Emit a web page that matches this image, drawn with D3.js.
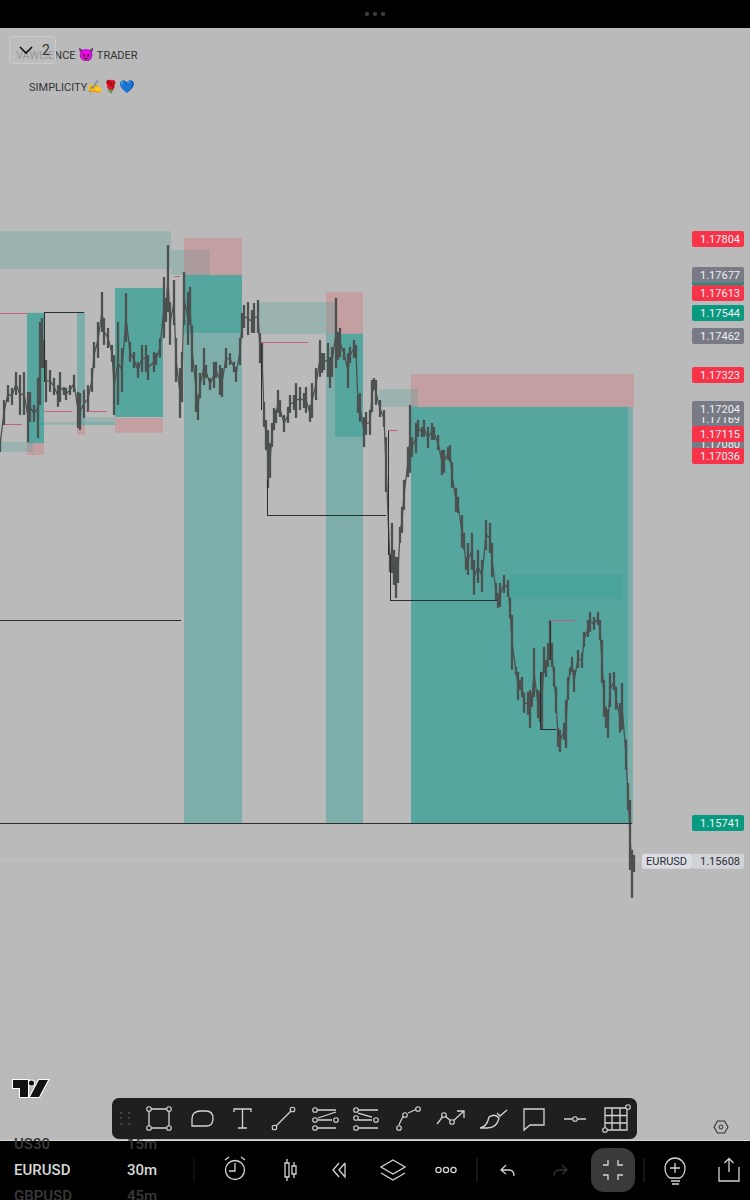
<!DOCTYPE html>
<html lang="en">

<head>
    <meta charset="utf-8">
    <title>EURUSD 30m</title>
    <script src="https://cdn.jsdelivr.net/npm/d3@7"></script>
    <style>
        * {
            margin: 0;
            padding: 0;
        }

        body {
            background: #000;
            overflow: hidden;
        }

        svg {
            display: block;
            font-family: Roboto, sans-serif;
        }
    </style>
</head>

<body>
    <div id="chart"></div>
    <script>
        // bars, one per sampled 30m candle
        var barNo = [0, 2, 4, 6, 8, 10, 12, 14, 15, 17, 19, 20, 21, 22, 23, 25, 27, 29, 30, 32, 33, 35, 37, 39, 40, 42, 44, 46, 47, 49, 51, 52, 54, 56, 57, 59, 61, 63, 65, 67, 69, 71, 73, 74, 77, 78, 80, 82, 83, 84, 85, 87, 88, 90, 91, 92, 94, 95, 96, 98, 99, 100, 102, 103, 105, 107, 108, 110, 111, 113, 115, 117, 118, 120, 121, 122, 124,
            126, 127, 129, 130, 131, 132, 133, 134, 135, 136, 137, 138, 139, 140, 142, 144, 145, 147, 148, 150, 152, 153, 155, 156, 158, 160, 161, 162, 164, 165, 166, 168, 169, 170, 172, 174, 175, 177, 178, 179, 180, 182, 183, 185, 186, 187, 188, 190, 192, 193, 195, 196, 197, 198, 199, 200, 201, 202, 204, 205, 206, 208, 209, 211, 212, 214, 216, 217, 219, 221, 222, 224, 225, 226, 228, 229, 231, 232, 233, 234, 236, 237, 239, 241, 243, 245, 246, 248, 249,
            250, 252, 254, 255, 256, 258, 259, 260, 261, 262, 264, 265, 266, 267, 269, 270, 271, 272, 273, 274, 275, 276, 277, 278, 279, 280, 282, 283, 284, 285, 286, 287, 289, 291, 292, 294, 295, 297, 299, 300, 301, 302, 303, 304, 305, 307, 308, 310, 311, 313, 314, 315, 316, 317];
        var barHigh = [1.17101, 1.17235, 1.17288, 1.17278, 1.17334, 1.17324, 1.17334, 1.17264, 1.17264, 1.17218, 1.17313, 1.17511, 1.17525, 1.17447, 1.17377, 1.17341, 1.17313, 1.17288, 1.17334, 1.17281, 1.17278, 1.17288, 1.17324, 1.17264, 1.17260, 1.17271, 1.17288, 1.17348, 1.17440, 1.17511, 1.17617, 1.17525, 1.17490, 1.17430, 1.17394, 1.17511, 1.17419, 1.17613, 1.17440, 1.17405, 1.17370, 1.17430, 1.17430, 1.17394, 1.17405, 1.17401, 1.17454, 1.17670, 1.17596, 1.17783, 1.17581, 1.17659, 1.17454, 1.17348, 1.17405, 1.17687, 1.17617, 1.17635, 1.17500, 1.17359, 1.17253, 1.17331, 1.17419, 1.17359, 1.17313, 1.17370, 1.17370, 1.17359, 1.17348, 1.17419, 1.17401, 1.17370, 1.17352, 1.17454, 1.17543, 1.17571, 1.17581,
            1.17553, 1.17578, 1.17589, 1.17472, 1.17440, 1.17228, 1.17165, 1.17129, 1.17083, 1.17154, 1.17207, 1.17200, 1.17271, 1.17235, 1.17182, 1.17211, 1.17253, 1.17253, 1.17295, 1.17281, 1.17260, 1.17281, 1.17218, 1.17295, 1.17348, 1.17447, 1.17401, 1.17401, 1.17437, 1.17387, 1.17423, 1.17596, 1.17476, 1.17490, 1.17419, 1.17401, 1.17423, 1.17447, 1.17430, 1.17253, 1.17260, 1.17175, 1.17193, 1.17200, 1.17306, 1.17313, 1.17306, 1.17235, 1.17200, 1.17104, 1.16688, 1.16801, 1.16706, 1.16681, 1.16681, 1.16787, 1.16858, 1.16953, 1.17069, 1.17218, 1.17104, 1.17154, 1.17165, 1.17140, 1.17165, 1.17140, 1.17154, 1.17140, 1.17112, 1.17059, 1.17059, 1.17069, 1.17076, 1.17016, 1.16925, 1.16893, 1.16829, 1.16766, 1.16681, 1.16730, 1.16766, 1.16670, 1.16706, 1.16670, 1.16812, 1.16801, 1.16730, 1.16589, 1.16554,
            1.16589, 1.16617, 1.16600, 1.16536, 1.16476, 1.16292, 1.16275, 1.16247, 1.16257, 1.16201, 1.16204, 1.16211, 1.16201, 1.16359, 1.16211, 1.16204, 1.16275, 1.16363, 1.16317, 1.16377, 1.16458, 1.16377, 1.16292, 1.16222, 1.16077, 1.16070, 1.16095, 1.16176, 1.16257, 1.16289, 1.16328, 1.16282, 1.16352, 1.16342, 1.16416, 1.16458, 1.16487, 1.16469, 1.16487, 1.16458, 1.16388, 1.16247, 1.16151, 1.16141, 1.16271, 1.16275, 1.16222, 1.16165, 1.16236, 1.16035, 1.15882, 1.15823, 1.15646, 1.15628];
        var barLow = [1.17052, 1.17147, 1.17228, 1.17218, 1.17253, 1.17182, 1.17182, 1.17087, 1.17158, 1.17158, 1.17101, 1.17218, 1.17348, 1.17348, 1.17228, 1.17264, 1.17253, 1.17211, 1.17228, 1.17253, 1.17235, 1.17253, 1.17264, 1.17136, 1.17129, 1.17172, 1.17193, 1.17264, 1.17348, 1.17384, 1.17476, 1.17430, 1.17419, 1.17370, 1.17182, 1.17218, 1.17264, 1.17440, 1.17370, 1.17348, 1.17313, 1.17334, 1.17334, 1.17306, 1.17334, 1.17359, 1.17384, 1.17454, 1.17511, 1.17546, 1.17430, 1.17500, 1.17299, 1.17172, 1.17228, 1.17500, 1.17430, 1.17500, 1.17334, 1.17193, 1.17165, 1.17242, 1.17288, 1.17313, 1.17271, 1.17278, 1.17313, 1.17253, 1.17246, 1.17348, 1.17359, 1.17334, 1.17299, 1.17359, 1.17454, 1.17490, 1.17465,
            1.17472, 1.17472, 1.17472, 1.17366, 1.17352, 1.17140, 1.17059, 1.16925, 1.16960, 1.17069, 1.17129, 1.17154, 1.17190, 1.17175, 1.17122, 1.17154, 1.17190, 1.17200, 1.17172, 1.17200, 1.17207, 1.17190, 1.17158, 1.17172, 1.17235, 1.17317, 1.17331, 1.17341, 1.17317, 1.17278, 1.17317, 1.17348, 1.17377, 1.17387, 1.17377, 1.17278, 1.17366, 1.17384, 1.17384, 1.17190, 1.17158, 1.17069, 1.17112, 1.17112, 1.17193, 1.17271, 1.17218, 1.17175, 1.17140, 1.16910, 1.16628, 1.16624, 1.16582, 1.16536, 1.16589, 1.16730, 1.16766, 1.16847, 1.16963, 1.16978, 1.17034, 1.17048, 1.17105, 1.17105, 1.17105, 1.17066, 1.17094, 1.17094, 1.17059, 1.16970, 1.16978, 1.17023, 1.17016, 1.16925, 1.16840, 1.16836, 1.16713, 1.16706, 1.16635, 1.16617, 1.16635, 1.16547, 1.16589, 1.16557, 1.16706, 1.16695, 1.16610, 1.16529, 1.16501,
            1.16504, 1.16554, 1.16540, 1.16465, 1.16282, 1.16264, 1.16176, 1.16211, 1.16186, 1.16130, 1.16123, 1.16077, 1.16151, 1.16186, 1.16112, 1.16098, 1.16070, 1.16271, 1.16257, 1.16292, 1.16317, 1.16292, 1.16222, 1.16130, 1.16010, 1.15992, 1.16035, 1.16006, 1.16176, 1.16264, 1.16275, 1.16204, 1.16289, 1.16289, 1.16363, 1.16398, 1.16416, 1.16423, 1.16441, 1.16388, 1.16236, 1.16116, 1.16077, 1.16042, 1.16151, 1.16211, 1.16141, 1.16060, 1.16070, 1.15929, 1.15787, 1.15575, 1.15477, 1.15568];

        // drawn zones
        var zoneKind = ["light", "light", "pink", "mid", "mid", "strong", "pink", "light", "mid", "pink", "light", "light", "strong", "pink", "mid", "mid", "pink", "light", "mid", "mid", "pink", "light", "faint"];
        var zoneStart = [0, 85.5, 92, 92, 92, 13.5, 13.5, 0, 38.5, 38.5, 20, 42.5, 57.5, 57.5, 163, 167.5, 163, 128.5, 205.5, 205.5, 205.5, 189.5, 255];
        var zoneEnd = [85.5, 105, 121, 121, 121, 22, 22, 16.5, 42.5, 42.5, 57.5, 57.5, 81.5, 81.5, 181.5, 181.5, 181.5, 167.5, 316.5, 314, 317, 209, 311.5];
        var zoneTop = [1.17832, 1.17765, 1.17808, 1.17677, 1.17677, 1.17543, 1.17083, 1.17087, 1.17546, 1.17147, 1.17158, 1.17175, 1.17631, 1.17172, 1.17469, 1.17469, 1.17617, 1.17581, 1.17211, 1.17211, 1.17327, 1.17274, 1.16621];
        var zoneBottom = [1.17698, 1.17677, 1.17677, 1.15741, 1.17472, 1.17083, 1.17041, 1.17052, 1.17147, 1.17112, 1.17147, 1.17147, 1.17175, 1.17119, 1.15741, 1.17105, 1.17469, 1.17469, 1.15741, 1.15741, 1.17211, 1.17211, 1.16533];

        // structure lines (black) and liquidity lines (pink)
        var lineStart = [0, 0, 22, 22, 130.5, 133.5, 133.5, 194, 195, 195, 270, 270, 275];
        var lineEnd = [90.5, 316, 42, 22, 130.5, 133.5, 193, 194, 195, 248.5, 270, 278, 275];
        var lineFrom = [1.16458, 1.15741, 1.17546, 1.17546, 1.17433, 1.16953, 1.16829, 1.17129, 1.16688, 1.16526, 1.16275, 1.16070, 1.16458];
        var lineTo = [1.16458, 1.15741, 1.17546, 1.17300, 1.17200, 1.16829, 1.16829, 1.16688, 1.16526, 1.16526, 1.16070, 1.16070, 1.16317];
        var pinkStart = [0, 2.5, 22, 44, 87, 130.5, 194, 275];
        var pinkEnd = [13.5, 11, 36, 53.5, 90, 154, 199, 287.5];
        var pinkPrice = [1.17542, 1.17147, 1.17193, 1.17193, 1.17670, 1.17437, 1.17129, 1.16458];

        // price labels on the right, in stacking order
        var labelPrice = [1.17169, 1.17080, 1.17677, 1.17462, 1.17204, 1.17804, 1.17613, 1.17544, 1.17323, 1.17115, 1.17036, 1.15741];
        var labelKind = ["grey", "grey", "grey", "grey", "grey", "red", "red", "green", "red", "red", "red", "green"];
        var lastPrice = 1.15608;

        var width = 750,
            height = 1200;

        var svg = d3.select("#chart")
            .append("svg")
            .attr("width", width)
            .attr("height", height);

        var x = d3.scaleLinear().domain([0, 320]).range([0, 640]);
        var y = d3.scaleLinear().domain([1.17804, 1.15741]).range([239, 823]);

        svg.append("rect")
            .attr("y", 28)
            .attr("width", width)
            .attr("height", 1112)
            .attr("fill", "#bababa");

        // top handle
        svg.selectAll(".handle")
            .data([367, 375, 383])
            .enter()
            .append("circle")
            .attr("class", "handle")
            .attr("cx", function (d) { return d })
            .attr("cy", 14)
            .attr("r", 2.2)
            .attr("fill", "#3a3a3a");

        var zoneFill = {
            light: "rgba(0,150,136,0.17)",
            mid: "rgba(0,150,136,0.32)",
            strong: "rgba(0,150,136,0.54)",
            faint: "rgba(0,150,136,0.12)",
            pink: "rgba(242,54,69,0.2)"
        };

        svg.append("g")
            .selectAll("rect")
            .data(zoneKind)
            .enter()
            .append("rect")
            .attr("x", function (d, i) { return x(zoneStart[i]) })
            .attr("width", function (d, i) { return x(zoneEnd[i]) - x(zoneStart[i]) })
            .attr("y", function (d, i) { return y(zoneTop[i]) })
            .attr("height", function (d, i) { return y(zoneBottom[i]) - y(zoneTop[i]) })
            .attr("fill", function (d) { return zoneFill[d] });

        // current price line
        svg.append("line")
            .attr("x1", 0)
            .attr("x2", 692)
            .attr("y1", y(lastPrice))
            .attr("y2", y(lastPrice))
            .attr("stroke", "#c6c6c6")
            .attr("stroke-width", 1);

        // thin line through the bars, the candles in the picture touch each other
        var priceLine = d3.line()
            .x(function (d) { return x(d) })
            .y(function (d, i) { return y((barHigh[i] + barLow[i]) / 2) });

        svg.append("path")
            .attr("d", priceLine(barNo))
            .attr("fill", "none")
            .attr("stroke", "#4c5150")
            .attr("stroke-width", 1.3);

        svg.append("g")
            .selectAll("line")
            .data(barNo)
            .enter()
            .append("line")
            .attr("x1", function (d) { return x(d) })
            .attr("x2", function (d) { return x(d) })
            .attr("y1", function (d, i) { return y(barHigh[i]) })
            .attr("y2", function (d, i) { return y(barLow[i]) })
            .attr("stroke", "#4c5150")
            .attr("stroke-width", 2.3);

        svg.append("g")
            .selectAll("line")
            .data(lineStart)
            .enter()
            .append("line")
            .attr("x1", function (d) { return x(d) })
            .attr("x2", function (d, i) { return x(lineEnd[i]) })
            .attr("y1", function (d, i) { return y(lineFrom[i]) })
            .attr("y2", function (d, i) { return y(lineTo[i]) })
            .attr("stroke", "#2a302e")
            .attr("stroke-width", 1)
            .attr("shape-rendering", "crispEdges");

        svg.append("g")
            .selectAll("line")
            .data(pinkStart)
            .enter()
            .append("line")
            .attr("x1", function (d) { return x(d) })
            .attr("x2", function (d, i) { return x(pinkEnd[i]) })
            .attr("y1", function (d, i) { return y(pinkPrice[i]) })
            .attr("y2", function (d, i) { return y(pinkPrice[i]) })
            .attr("stroke", "#c4607a")
            .attr("stroke-width", 1)
            .attr("shape-rendering", "crispEdges");

        // price labels
        var labelFill = { grey: "#787b86", red: "#f7334a", green: "#089981" };

        svg.append("rect")
            .attr("x", 692)
            .attr("width", 52)
            .attr("y", 277)
            .attr("height", 8)
            .attr("fill", labelFill.green);

        var labels = svg.append("g")
            .selectAll("g")
            .data(labelPrice)
            .enter()
            .append("g")
            .attr("transform", function (d) { return "translate(692," + Math.round(y(d)) + ")" });

        labels.append("rect")
            .attr("y", -8)
            .attr("width", 52)
            .attr("height", 16)
            .attr("rx", 2)
            .attr("fill", function (d, i) { return labelFill[labelKind[i]] });

        labels.append("text")
            .attr("x", 48)
            .attr("y", 4)
            .attr("text-anchor", "end")
            .attr("font-size", 11)
            .attr("fill", "#f0f0f0")
            .text(function (d) { return d.toFixed(5) });

        // symbol + last price
        var last = svg.append("g")
            .attr("transform", "translate(0," + y(lastPrice) + ")");

        last.append("rect")
            .attr("x", 642)
            .attr("y", -7)
            .attr("width", 50)
            .attr("height", 15)
            .attr("rx", 2)
            .attr("fill", "#dcdde2");

        last.append("rect")
            .attr("x", 692)
            .attr("y", -7)
            .attr("width", 52)
            .attr("height", 15)
            .attr("rx", 2)
            .attr("fill", "#d2d3d7");

        last.append("text")
            .attr("x", 646)
            .attr("y", 4)
            .attr("font-size", 11)
            .attr("fill", "#2a2e39")
            .text("EURUSD");

        last.append("text")
            .attr("x", 740)
            .attr("y", 4)
            .attr("text-anchor", "end")
            .attr("font-size", 11)
            .attr("fill", "#2a2e39")
            .text(lastPrice.toFixed(5));

        // watermark text
        var title = svg.append("text")
            .attr("x", 16)
            .attr("y", 58.5)
            .attr("font-size", 11)
            .attr("fill", "#333");
        title.append("tspan").text("VAWLIENCE ");
        title.append("tspan").attr("font-size", 13).text("😈");
        title.append("tspan").text(" TRADER");

        var motto = svg.append("text")
            .attr("x", 29)
            .attr("y", 91)
            .attr("font-size", 11)
            .attr("fill", "#333");
        motto.append("tspan").text("SIMPLICITY");
        motto.append("tspan").attr("font-size", 12.5).text("✍️🌹💙");

        // collapse button
        svg.append("rect")
            .attr("x", 9.5)
            .attr("y", 36.5)
            .attr("width", 46)
            .attr("height", 27)
            .attr("rx", 3)
            .attr("fill", "rgba(190,190,190,0.72)")
            .attr("stroke", "#cbcbcb");

        svg.append("path")
            .attr("d", "M20 47l6 6 6-6")
            .attr("fill", "none")
            .attr("stroke", "#111")
            .attr("stroke-width", 1.6);

        svg.append("text")
            .attr("x", 42)
            .attr("y", 55)
            .attr("font-size", 14)
            .attr("fill", "#333")
            .text("2");

        // tradingview logo
        svg.append("path")
            .attr("d", "M13 1080H28V1097H20V1088H13ZM39 1080H48L39 1097H30Z")
            .attr("fill", "#111")
            .attr("stroke", "#fff")
            .attr("stroke-width", 2.2)
            .attr("paint-order", "stroke");

        svg.append("circle")
            .attr("cx", 31.5)
            .attr("cy", 1083)
            .attr("r", 2.6)
            .attr("fill", "#111")
            .attr("stroke", "#fff")
            .attr("stroke-width", 2)
            .attr("paint-order", "stroke");

        // hexagon
        svg.append("path")
            .attr("d", "M714 1127L717.5 1121H724.5L728 1127L724.5 1133H717.5Z")
            .attr("fill", "none")
            .attr("stroke", "#333")
            .attr("stroke-width", 1.1);

        svg.append("circle")
            .attr("cx", 721)
            .attr("cy", 1127)
            .attr("r", 2)
            .attr("fill", "none")
            .attr("stroke", "#333");

        // bottom bar
        svg.append("rect")
            .attr("y", 1140)
            .attr("width", width)
            .attr("height", 1)
            .attr("fill", "#d6d6d6");

        svg.append("rect")
            .attr("y", 1141)
            .attr("width", width)
            .attr("height", 59)
            .attr("fill", "#000");

        var barTexts = [
            ["US30", 14, 1149, "#3a3a3a"],
            ["15m", 127, 1149, "#3a3a3a"],
            ["EURUSD", 14, 1175, "#d8d8d8"],
            ["30m", 127, 1175, "#d8d8d8"],
            ["GBPUSD", 14, 1201, "#3a3a3a"],
            ["45m", 127, 1201, "#3a3a3a"]
        ];

        svg.append("g")
            .selectAll("text")
            .data(barTexts)
            .enter()
            .append("text")
            .attr("x", function (d) { return d[1] })
            .attr("y", function (d) { return d[2] })
            .attr("font-size", 15)
            .attr("font-weight", 500)
            .attr("fill", function (d) { return d[3] })
            .text(function (d) { return d[0] });

        svg.append("rect")
            .attr("x", 591)
            .attr("y", 1148)
            .attr("width", 44)
            .attr("height", 44)
            .attr("rx", 13)
            .attr("fill", "#3a3a3a");

        // drawing toolbar
        svg.append("rect")
            .attr("x", 112)
            .attr("y", 1098)
            .attr("width", 525)
            .attr("height", 41)
            .attr("rx", 7)
            .attr("fill", "#1f1f1f");

        svg.append("g")
            .selectAll("circle")
            .data([[121, 1113], [129, 1113], [121, 1118], [129, 1118], [121, 1124], [129, 1124]])
            .enter()
            .append("circle")
            .attr("cx", function (d) { return d[0] })
            .attr("cy", function (d) { return d[1] })
            .attr("r", 0.9)
            .attr("fill", "#555");

        var iconPaths = [
            // rectangle
            "M149 1109H169V1128H149Z",
            // rounded callout
            "M192 1126V1119Q192 1111 201 1111H206Q213 1111 213 1118.5Q213 1126 206 1126Z",
            // text
            "M234 1112V1109H251V1112M242.5 1109V1128M238 1128H247",
            // line
            "M276 1126L291 1111",
            // fib channel
            "M316 1110H336M318 1120H332M316 1128H336M318 1118L336 1112",
            // fib lines
            "M358 1110H378M358 1120H372M358 1128H378M358 1113L372 1117",
            // curve
            "M399 1125Q402 1117 405 1115M408 1113L416 1109.5",
            // polyline arrow
            "M437 1124L444 1115L452 1122L464 1111M457 1111H464V1118",
            // brush
            "M480 1128Q487 1127 489 1117Q495 1113 499 1118Q497 1128 487 1128ZM497 1113L500 1116L507 1110",
            // bubble
            "M524 1109H544V1125H530L524 1130Z",
            // node line
            "M564 1119H572M577 1119H586",
            // grid
            "M605 1108H627V1130H605ZM612 1108V1130M620 1108V1130M605 1115.5H627M605 1123H627",
            // alarm
            "M235 1163V1171H229M225 1160L229 1157M245 1160L241 1157",
            // candle icon
            "M285 1163H289V1177H285ZM287 1159V1163M287 1177V1181M292 1166H296V1174H292ZM294 1162V1166M294 1174V1178",
            // rewind
            "M339 1163L333 1170L339 1177M345 1163L339 1170L345 1177V1163",
            // layers
            "M393 1160L405 1167L393 1174L381 1167ZM381 1173L393 1180L405 1173",
            // undo
            "M506 1165L501 1170L506 1174M501 1170H509Q514 1170 514 1176",
            // compress arrows
            "M608 1160V1165H603M618 1160V1165H623M608 1180V1175H603M618 1180V1175H623",
            // bulb
            "M671 1181H680M672 1184H679M670 1178Q665 1175 665 1168A10 10 0 0 1 685 1168Q685 1175 680 1178ZM675 1163V1173M670 1168H680",
            // share
            "M719 1167V1181H739V1167M729 1172V1159M724.5 1163L729 1158.5L733.5 1163"
        ];

        svg.append("g")
            .selectAll("path")
            .data(iconPaths)
            .enter()
            .append("path")
            .attr("d", function (d) { return d })
            .attr("fill", "none")
            .attr("stroke", "#d4d4d4")
            .attr("stroke-width", 1.3);

        // redo is greyed out
        svg.append("path")
            .attr("d", "M562 1165L567 1170L562 1174M567 1170H559Q554 1170 554 1176")
            .attr("fill", "none")
            .attr("stroke", "#333")
            .attr("stroke-width", 1.3);

        var iconRings = [
            [149, 1109], [169, 1109], [149, 1128], [169, 1128], [274.5, 1127.5], [292.5, 1109.5],
            [315, 1110], [336, 1120], [315, 1120], [315, 1128], [356, 1110], [356, 1118], [376, 1120], [356, 1128],
            [399, 1128], [405, 1115], [418, 1109], [444, 1115], [452, 1122], [575, 1119],
            [605, 1130], [628, 1107]
        ];

        svg.append("g")
            .selectAll("circle")
            .data(iconRings)
            .enter()
            .append("circle")
            .attr("cx", function (d) { return d[0] })
            .attr("cy", function (d) { return d[1] })
            .attr("r", 2.3)
            .attr("fill", "#1f1f1f")
            .attr("stroke", "#d4d4d4")
            .attr("stroke-width", 1.1);

        svg.append("g")
            .selectAll("circle")
            .data([[438.5, 1170], [446, 1170], [453.5, 1170]])
            .enter()
            .append("circle")
            .attr("cx", function (d) { return d[0] })
            .attr("cy", function (d) { return d[1] })
            .attr("r", 2.6)
            .attr("fill", "none")
            .attr("stroke", "#d4d4d4")
            .attr("stroke-width", 1.3);

        // alarm ring
        svg.append("circle")
            .attr("cx", 235)
            .attr("cy", 1170)
            .attr("r", 9.5)
            .attr("fill", "none")
            .attr("stroke", "#d4d4d4")
            .attr("stroke-width", 1.3);

        // separators
        svg.append("g")
            .selectAll("line")
            .data([[194, "#1c1c1c"], [477, "#2c2c2c"], [644, "#2c2c2c"]])
            .enter()
            .append("line")
            .attr("x1", function (d) { return d[0] })
            .attr("x2", function (d) { return d[0] })
            .attr("y1", 1158)
            .attr("y2", 1182)
            .attr("stroke", function (d) { return d[1] });
    </script>
</body>

</html>
